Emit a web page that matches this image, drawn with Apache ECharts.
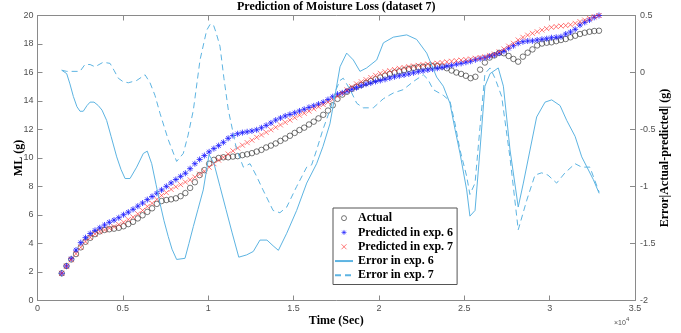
<!DOCTYPE html>
<html>
<head>
<meta charset="utf-8">
<script src="https://cdn.jsdelivr.net/npm/echarts@6/dist/echarts.min.js"></script>
<style>
  html, body { margin: 0; padding: 0; background: #fff; }
  #chart { width: 681px; height: 333px; }
</style>
</head>
<body>
<div id="chart"></div>
<script>
// Moisture-loss readings: first sample at 1420 s, logged every 278.5 s
const sampleStart = 1420;
const sampleStep = 278.5;

const actual = [
  1.91, 2.42, 2.88, 3.26, 3.73, 4.12, 4.40, 4.66, 4.85, 4.95,
  5.00, 5.04, 5.10, 5.21, 5.36, 5.52, 5.76, 5.98, 6.22, 6.47,
  6.78, 6.98, 7.05, 7.10, 7.17, 7.32, 7.54, 7.90, 8.30, 8.80,
  9.15, 9.60, 9.87, 10.00, 10.05, 10.05, 10.10, 10.13, 10.20, 10.26,
  10.34, 10.45, 10.57, 10.74, 10.87, 11.02, 11.20, 11.37, 11.56, 11.76,
  11.96, 12.13, 12.35, 12.55, 12.78, 13.03, 13.33, 13.70, 14.15, 14.45,
  14.65, 14.85, 15.00, 15.13, 15.27, 15.40, 15.52, 15.65, 15.78, 15.90,
  16.00, 16.08, 16.16, 16.25, 16.32, 16.37, 16.40, 16.43, 16.45, 16.46,
  16.42, 16.30, 16.14, 16.00, 15.90, 15.77, 15.60, 15.70, 16.20, 16.70,
  17.05, 17.20, 17.38, 17.35, 17.16, 16.95, 16.76, 17.11, 17.39, 17.62,
  17.90, 18.03, 18.09, 18.12, 18.20, 18.28, 18.35, 18.47, 18.58, 18.70,
  18.79, 18.86, 18.91, 18.93
];

const predicted6 = [
  1.91, 2.42, 2.93, 3.54, 4.06, 4.41, 4.70, 4.92, 5.10, 5.30,
  5.49, 5.64, 5.81, 6.02, 6.20, 6.40, 6.62, 6.84, 7.08, 7.30,
  7.53, 7.76, 8.01, 8.25, 8.49, 8.71, 8.93, 9.25, 9.60, 9.90,
  10.17, 10.43, 10.66, 10.87, 11.10, 11.38, 11.58, 11.70, 11.78, 11.84,
  11.90, 11.98, 12.12, 12.29, 12.46, 12.66, 12.81, 12.95, 13.06, 13.17,
  13.30, 13.42, 13.55, 13.66, 13.78, 13.91, 14.10, 14.30, 14.48, 14.57,
  14.70, 14.82, 14.94, 15.07, 15.18, 15.26, 15.37, 15.44, 15.52, 15.61,
  15.70, 15.77, 15.83, 15.90, 15.98, 16.06, 16.12, 16.18, 16.24, 16.30,
  16.36, 16.44, 16.50, 16.58, 16.64, 16.72, 16.79, 16.89, 16.97, 17.04,
  17.14, 17.23, 17.36, 17.49, 17.70, 17.88, 18.05, 18.16, 18.21, 18.22,
  18.28, 18.33, 18.37, 18.44, 18.47, 18.51, 18.70, 18.84, 19.03, 19.33,
  19.52, 19.68, 19.87, 20.00
];

const predicted7 = [
  1.91, 2.40, 2.86, 3.28, 3.73, 4.12, 4.42, 4.66, 4.83, 4.95,
  5.08, 5.18, 5.33, 5.49, 5.68, 5.85, 6.08, 6.32, 6.60, 6.82,
  7.10, 7.37, 7.57, 7.80, 7.98, 8.13, 8.31, 8.47, 8.66, 8.87,
  9.07, 9.35, 9.60, 9.85, 10.05, 10.28, 10.50, 10.70, 10.90, 11.08,
  11.25, 11.45, 11.62, 11.80, 11.98, 12.15, 12.32, 12.50, 12.66, 12.83,
  13.00, 13.14, 13.29, 13.45, 13.60, 13.75, 13.92, 14.10, 14.33, 14.55,
  14.78, 15.00, 15.20, 15.35, 15.50, 15.65, 15.80, 15.94, 16.05, 16.13,
  16.21, 16.29, 16.35, 16.41, 16.46, 16.50, 16.55, 16.59, 16.62, 16.65,
  16.70, 16.75, 16.79, 16.83, 16.87, 16.91, 16.95, 17.00, 17.05, 17.10,
  17.20, 17.30, 17.45, 17.65, 17.85, 18.05, 18.28, 18.47, 18.62, 18.75,
  18.86, 18.98, 19.08, 19.17, 19.22, 19.26, 19.30, 19.35, 19.45, 19.57,
  19.68, 19.80, 19.92, 20.00
];

// Error curves (right axis), each with its own time stamps in seconds
const errTime6 = [
  1420, 1710, 1900, 2100, 2310, 2490, 2680, 2900, 3080, 3310,
  3560, 3780, 4050, 4310, 4640, 4890, 5130, 5420, 5810, 6200,
  6430, 6690, 6940, 7180, 7410, 7660, 7880, 8150, 8640, 8870,
  9130, 9400, 9710, 10050, 10340, 10690, 11040, 11390, 11790, 12250,
  12640, 13030, 13440, 13800, 14110, 14600, 15180, 15770, 16350, 16720,
  17130, 17430, 17720, 18110, 18500, 18890, 19280, 19870, 20260, 20840,
  21630, 22210, 22800, 23380, 23770, 24160, 24460, 24750, 25140, 25330,
  25630, 25920, 26210, 26510, 26990, 27290, 27680, 28160, 28460, 28850,
  29240, 29730, 30120, 30610, 31000, 31490, 31880, 32560, 32900
];
const err6 = [
  0.02, -0.01, -0.10, -0.21, -0.30, -0.34, -0.34, -0.29, -0.26, -0.26,
  -0.29, -0.33, -0.42, -0.56, -0.74, -0.85, -0.93, -0.93, -0.83, -0.71,
  -0.69, -0.80, -0.98, -1.15, -1.30, -1.44, -1.55, -1.64, -1.63, -1.50,
  -1.35, -1.20, -1.03, -0.72, -0.80, -1.00, -1.20, -1.40, -1.62, -1.60,
  -1.57, -1.47, -1.47, -1.52, -1.56, -1.41, -1.21, -0.97, -0.80, -0.65,
  -0.45, -0.20, 0.05, 0.17, 0.11, 0.01, 0.04, 0.11, 0.26, 0.31,
  0.33, 0.29, 0.17, -0.04, -0.12, -0.27, -0.50, -0.71, -1.03, -1.26,
  -1.21, -0.68, -0.12, -0.01, 0.04, -0.12, -0.68, -1.18, -0.97, -0.68,
  -0.39, -0.26, -0.24, -0.29, -0.42, -0.56, -0.74, -0.94, -1.06
];

const errTime7 = [
  1420, 1710, 2490, 2780, 3080, 3370, 3850, 4250, 4480, 4730,
  5010, 5320, 5810, 6300, 6590, 6880, 7180, 7660, 8150, 8540,
  8820, 9130, 9520, 9910, 10100, 10300, 10460, 10690, 10920, 11180,
  11670, 12060, 12450, 12800, 13210, 13800, 14200, 14600, 15180, 15770,
  16060, 16350, 16720, 17130, 17490, 17720, 17910, 18310, 18700, 19080,
  19670, 20260, 20840, 21430, 22010, 22600, 22870, 23180, 23770, 24160,
  24460, 24750, 25140, 25330, 25630, 25920, 26210, 26510, 26800, 27190,
  27680, 28160, 28660, 29140, 29530, 29900, 30410, 30900, 31490, 31880,
  32360, 32900
];
const err7 = [
  0.02, 0.01, 0.01, 0.07, 0.07, 0.05, 0.09, 0.08, 0.02, -0.05,
  -0.08, -0.09, -0.07, -0.02, -0.09, -0.20, -0.36, -0.59, -0.78, -0.71,
  -0.55, -0.33, 0.11, 0.37, 0.42, 0.42, 0.35, 0.23, -0.05, -0.33,
  -0.68, -0.83, -0.80, -0.90, -1.03, -1.21, -1.23, -1.18, -1.00, -0.83,
  -0.81, -0.68, -0.50, -0.33, -0.15, -0.07, -0.05, -0.15, -0.27, -0.31,
  -0.31, -0.23, -0.18, -0.15, -0.08, -0.02, -0.06, -0.15, -0.20, -0.25,
  -0.45, -0.68, -0.91, -1.07, -0.97, -0.48, -0.01, 0.04, -0.05, -0.21,
  -0.75, -1.38, -1.12, -0.90, -0.88, -0.90, -0.97, -0.88, -0.80, -0.83,
  -0.83, -1.05
];

const seriesNames = ['Actual', 'Predicted in exp. 6', 'Predicted in exp. 7', 'Error in exp. 6', 'Error in exp. 7'];

const sampleTimes = actual.map((_, i) => sampleStart + i * sampleStep);
const pairs = (xs, ys) => ys.map((y, i) => [xs[i], y]);

const axisGray = '#8a8a8a';
const labelGray = '#505050';
const errColor = '#5db4e2';
const serif = '"Liberation Serif", "Times New Roman", serif';
const sans = '"Liberation Sans", Arial, sans-serif';

const PLOT = { left: 37.5, right: 635, top: 15.5, bottom: 300.5 };
const midX = (PLOT.left + PLOT.right) / 2;
const midY = (PLOT.top + PLOT.bottom) / 2;

const tickStyle = { inside: true, length: 5, lineStyle: { color: axisGray, width: 1 } };
const axisLine = { show: true, onZero: false, lineStyle: { color: axisGray, width: 1 } };
const tickLabel = { color: labelGray, fontSize: 9, fontFamily: sans };

const chart = echarts.init(document.getElementById('chart'), null, { renderer: 'canvas' });

chart.setOption({
  animation: false,
  backgroundColor: '#fff',
  grid: {
    left: PLOT.left, right: 681 - PLOT.right, top: PLOT.top, bottom: 333 - PLOT.bottom,
    outerBoundsMode: 'none', containLabel: false
  },
  xAxis: [
    {
      type: 'value', position: 'bottom', min: 0, max: 35000, interval: 5000,
      axisLine: axisLine, axisTick: tickStyle, splitLine: { show: false },
      axisLabel: Object.assign({ margin: 4, formatter: v => String(v / 10000) }, tickLabel)
    },
    {
      type: 'value', position: 'top', min: 0, max: 35000, interval: 5000,
      axisLine: axisLine, axisTick: tickStyle, splitLine: { show: false },
      axisLabel: { show: false }
    }
  ],
  yAxis: [
    {
      type: 'value', position: 'left', min: 0, max: 20, interval: 2,
      axisLine: axisLine, axisTick: tickStyle, splitLine: { show: false },
      axisLabel: Object.assign({ margin: 4 }, tickLabel)
    },
    {
      type: 'value', position: 'right', min: -2, max: 0.5, interval: 0.5,
      axisLine: axisLine, axisTick: tickStyle, splitLine: { show: false },
      axisLabel: Object.assign({ margin: 5 }, tickLabel)
    }
  ],
  legend: {
    orient: 'vertical', left: 333, top: 208,
    itemWidth: 18, itemHeight: 5, itemGap: 2,
    padding: [4, 4, 3, 1],
    borderColor: '#555', borderWidth: 1, backgroundColor: '#fff',
    selectedMode: false,
    textStyle: { fontFamily: serif, fontWeight: 'bold', fontSize: 12, color: '#000', lineHeight: 12.3 },
    data: [
      { name: seriesNames[0], itemStyle: { borderWidth: 0.8 } },
      { name: seriesNames[1], itemStyle: { borderWidth: 0.8 } },
      { name: seriesNames[2], itemStyle: { borderWidth: 0.8 } },
      { name: seriesNames[3], itemStyle: { opacity: 0 } },
      { name: seriesNames[4], itemStyle: { opacity: 0 } }
    ]
  },
  graphic: [
    { type: 'text', x: midX, y: 7, silent: true,
      style: { text: 'Prediction of Moisture Loss (dataset 7)', fill: '#000', align: 'center', verticalAlign: 'middle',
               fontFamily: serif, fontWeight: 'bold', fontSize: 12 } },
    { type: 'text', x: midX, y: 321, silent: true,
      style: { text: 'Time (Sec)', fill: '#000', align: 'center', verticalAlign: 'middle',
               fontFamily: serif, fontWeight: 'bold', fontSize: 12 } },
    { type: 'text', x: 19, y: midY, rotation: Math.PI / 2, silent: true,
      style: { text: 'ML (g)', fill: '#000', align: 'center', verticalAlign: 'middle',
               fontFamily: serif, fontWeight: 'bold', fontSize: 12 } },
    { type: 'text', x: 665, y: midY, rotation: Math.PI / 2, silent: true,
      style: { text: 'Error|Actual-predicted| (g)', fill: '#000', align: 'center', verticalAlign: 'middle',
               fontFamily: serif, fontWeight: 'bold', fontSize: 12 } },
    { type: 'text', x: 614, y: 323, silent: true,
      style: { text: '\u00d710', fill: labelGray, align: 'left', verticalAlign: 'middle', fontFamily: sans, fontSize: 7 } },
    { type: 'text', x: 626, y: 319, silent: true,
      style: { text: '4', fill: labelGray, align: 'left', verticalAlign: 'middle', fontFamily: sans, fontSize: 6 } }
  ],
  series: [
    {
      name: seriesNames[3], type: 'line', xAxisIndex: 0, yAxisIndex: 1,
      data: pairs(errTime6, err6), symbol: 'none', silent: true,
      itemStyle: { color: errColor },
      lineStyle: { color: errColor, width: 1 }
    },
    {
      name: seriesNames[4], type: 'line', xAxisIndex: 0, yAxisIndex: 1,
      data: pairs(errTime7, err7), symbol: 'none', silent: true,
      itemStyle: { color: errColor },
      lineStyle: { color: errColor, width: 1, type: [6, 4] }
    },
    {
      name: seriesNames[0], type: 'scatter', xAxisIndex: 0, yAxisIndex: 0,
      data: pairs(sampleTimes, actual), symbol: 'circle', symbolSize: 5.5, silent: true,
      itemStyle: { color: 'rgba(0,0,0,0)', borderColor: '#2b2b2b', borderWidth: 0.8 }
    },
    {
      name: seriesNames[1], type: 'scatter', xAxisIndex: 0, yAxisIndex: 0,
      data: pairs(sampleTimes, predicted6),
      symbol: 'path://M5,0L5,10M0,5L10,5M1.5,1.5L8.5,8.5M8.5,1.5L1.5,8.5', symbolSize: 6, silent: true,
      itemStyle: { color: 'rgba(0,0,0,0)', borderColor: '#1a1aff', borderWidth: 1 }
    },
    {
      name: seriesNames[2], type: 'scatter', xAxisIndex: 0, yAxisIndex: 0,
      data: pairs(sampleTimes, predicted7),
      symbol: 'path://M0,0L10,10M10,0L0,10', symbolSize: 5, silent: true,
      itemStyle: { color: 'rgba(0,0,0,0)', borderColor: '#ff2a2a', borderWidth: 0.8 }
    }
  ]
});
</script>
</body>
</html>
